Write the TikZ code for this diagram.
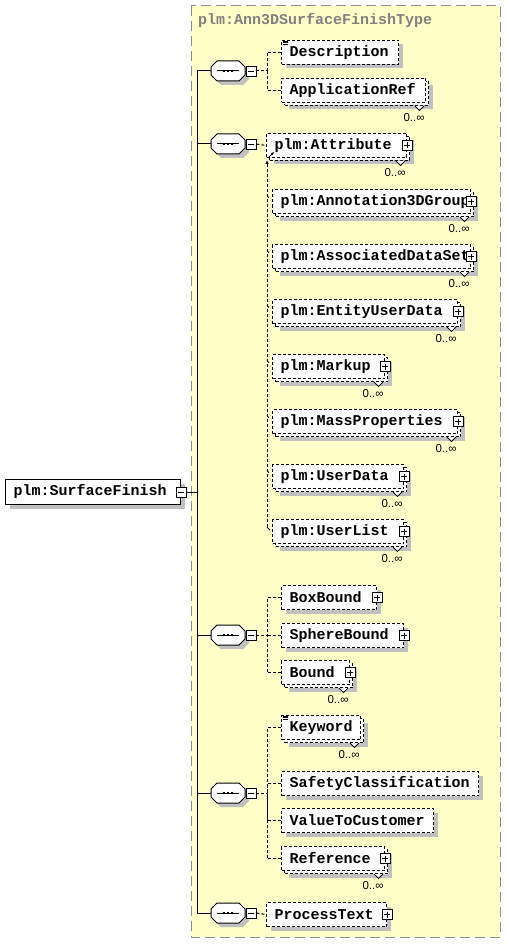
\documentclass[tikz,border=0pt]{standalone}
\usepackage{fontspec}
\newfontfamily\xmono{Liberation Mono}
\newfontfamily\xsans{Liberation Sans}
\usetikzlibrary{shadows,calc,arrows.meta}
\definecolor{boxyellow}{RGB}{255,255,200}
\definecolor{shadowgray}{RGB}{192,192,192}
\definecolor{titlegray}{RGB}{128,128,128}
\definecolor{bordergray}{RGB}{140,140,140}
\tikzset{
 elem/.style={draw, fill=white, line width=1pt, dash pattern=on 3pt off 2pt, inner sep=0, anchor=north west},
 elsolid/.style={draw, fill=white, line width=1pt, inner sep=0, anchor=north west},
 shad/.style={drop shadow={shadow xshift=4pt, shadow yshift=-4pt, fill=shadowgray, opacity=1}},
 lbl/.style={anchor=west, inner sep=0, font=\xmono\bfseries\fontsize{15}{15}\selectfont},
 mult/.style={anchor=north, inner sep=0, font=\xsans\fontsize{11.5}{11.5}\selectfont},
 dline/.style={line width=1pt, dash pattern=on 3pt off 2pt},
 sline/.style={line width=1pt},
 pmbase/.style={draw, fill=white, line width=0.8pt, minimum size=10pt, inner sep=0, solid},
 minusbox/.style={pmbase, path picture={\draw[line width=0.8pt] ($(path picture bounding box.west)+(2,0)$) -- ($(path picture bounding box.east)+(-2,0)$);}},
 plusbox/.style={pmbase, path picture={\draw[line width=0.8pt] ($(path picture bounding box.west)+(2,0)$) -- ($(path picture bounding box.east)+(-2,0)$) ($(path picture bounding box.north)+(0,2)$) -- ($(path picture bounding box.south)+(0,-2)$);}},
}
\newcommand\xsingle[6]{%
 \pgfmathsetmacro\xw{#4-#2}\pgfmathsetmacro\xh{#5-#3}%
 \node[elem, shad, minimum width=\xw pt, minimum height=\xh pt] (#1) at (#2,#3) {};%
 \node[lbl] (#1-t) at ($(#1.west)+(8.5,0)$) {#6};}
\newcommand\xmulti[6]{%
 \pgfmathsetmacro\xw{#4-#2}\pgfmathsetmacro\xh{#5-#3}%
 \node[elem, shad, minimum width=\xw pt, minimum height=\xh pt] (#1-b) at (#2+3,#3+3) {};%
 \draw[line width=0.8pt, fill=white] ($(#1-b.south east)+(-14,0)$) -- ++(4.5,4.5) -- ++(4.5,-4.5);%
 \node[mult] (#1-n) at ($(#1-b.south east)+(-15,7)$) {0..∞};%
 \node[elem, minimum width=\xw pt, minimum height=\xh pt] (#1) at (#2,#3) {};%
 \node[lbl] (#1-t) at ($(#1.west)+(8.5,0)$) {#6};}
\newcommand\xplus[1]{\node[plusbox] (#1-p) at (#1.east) {};}
\newcommand\xdoc[1]{\foreach \k in {1,2.5,4}{\draw[line width=0.7pt] ($(#1.north west)+(2,\k)$) -- ++(5,0);}}
\newcommand\xseq[2]{%
 \node[minimum width=34pt, minimum height=20pt, inner sep=0] (#1) at (228,#2) {};%
 \fill[shadowgray] (217+4,#2-10+4) -- (239+4,#2-10+4) -- (245+4,#2-4+4) -- (245+4,#2+4+4) -- (239+4,#2+10+4) -- (217+4,#2+10+4) -- (211+4,#2+4+4) -- (211+4,#2-4+4) -- cycle;%
 \draw[sline, fill=white] (217,#2-10) -- (239,#2-10) -- (245,#2-4) -- (245,#2+4) -- (239,#2+10) -- (217,#2+10) -- (211,#2+4) -- (211,#2-4) -- cycle;%
 \draw[sline] (217,#2) -- (239,#2);%
 \foreach \d in {224,228,232}{\fill (\d-1.2,#2-1.4) rectangle (\d+1.2,#2+1.4);}%
 \node[minusbox] (#1-m) at (251,#2) {};}
\begin{document}
\begin{tikzpicture}[x=1pt,y=-1pt]
\useasboundingbox (0,0) rectangle (506,944);
\fill[white] (0,0) rectangle (506,944);
\draw[bordergray, fill=boxyellow, dash pattern=on 10pt off 5pt, line width=1pt] (191,6) rectangle (500,937);
\node[lbl, text=titlegray] (title) at (198,21) {plm:Ann3DSurfaceFinishType};
% root
\node[elsolid, shad, minimum width=175pt, minimum height=25pt] (root) at (5,479) {};
\node[lbl] (root-t) at ($(root.west)+(8.5,0)$) {plm:SurfaceFinish};
\node[minusbox] (root-m) at (root.east) {};
% trunk
\coordinate (tr-top) at (197,71);
\coordinate (tr-bot) at (197,913);
\draw[sline] (root-m.east) -- (root-m.east -| tr-top);
\draw[sline] (tr-top) -- (tr-bot);
% compositors
\xseq{g1}{71}
\xseq{g2}{144}
\xseq{g3}{635}
\xseq{g4}{793}
\xseq{g5}{913}
\foreach \g in {g1,g2,g3,g4,g5}{\draw[sline] (\g.west) -- (\g.west -| tr-top);}
% group 1
\xsingle{desc}{281}{40}{398}{64}{Description}
\xdoc{desc}
\xmulti{appref}{281}{78}{425}{102}{ApplicationRef}
\coordinate (g1-j) at (267,71);
\draw[dline] (g1-m.east) -- (g1-j);
\draw[dline] (desc.west) -| (g1-j);
\draw[dline] (appref.west) -| (g1-j);
% group 2
\xmulti{ulist}{272}{519}{403}{543}{plm:UserList}\xplus{ulist}
\xmulti{udata}{272}{464}{403}{488}{plm:UserData}\xplus{udata}
\xmulti{mass}{272}{409}{457}{433}{plm:MassProperties}\xplus{mass}
\xmulti{markup}{272}{354}{384}{378}{plm:Markup}\xplus{markup}
\xmulti{entity}{272}{299}{457}{323}{plm:EntityUserData}\xplus{entity}
\xmulti{assoc}{272}{244}{470}{268}{plm:AssociatedDataSet}\xplus{assoc}
\xmulti{anno}{272}{189}{470}{213}{plm:Annotation3DGroup}\xplus{anno}
\xmulti{attr}{266}{133}{406}{157}{plm:Attribute}\xplus{attr}
\draw[dline] (g2-m.east) -- (attr.west);
\coordinate (s-top) at (267,160);
\coordinate (s-bot) at (267,527);
\draw[dline, -{Latex[length=4pt,width=3.5pt]}] (s-bot) -- (s-top);
\draw[line width=0.8pt] (s-bot) -- ++(3,3);
\foreach \m in {anno,assoc,entity,markup,mass,udata}{\draw[line width=0.8pt] ($(\m.north west)+(-5,6)$) -- ++(2,3);}
\draw[line width=0.8pt, -{Latex[length=3pt,width=3pt]}] (268,158) -- (274,152);
% group 3
\xsingle{boxb}{281}{585}{376}{609}{BoxBound}\xplus{boxb}
\xsingle{sphb}{281}{623}{403}{647}{SphereBound}\xplus{sphb}
\xmulti{bound}{281}{660}{349}{684}{Bound}\xplus{bound}
\coordinate (g3-j) at (267,635);
\draw[dline] (g3-m.east) -- (g3-j);
\draw[dline] (boxb.west) -| (g3-j);
\draw[dline] (sphb.west) -- (sphb.west -| g3-j);
\draw[dline] (bound.west) -| (g3-j);
% group 4
\xmulti{kw}{281}{715}{360}{739}{Keyword}
\xdoc{kw}
\xsingle{safety}{281}{771}{478}{795}{SafetyClassification}
\xsingle{value}{281}{808}{433}{832}{ValueToCustomer}
\xmulti{ref}{281}{846}{384}{870}{Reference}\xplus{ref}
\coordinate (g4-j) at (267,793);
\draw[dline] (g4-m.east) -- (g4-j);
\draw[dline] (kw.west) -| (g4-j);
\draw[dline] (safety.west) -| (g4-j);
\draw[dline] (value.west) -| (g4-j);
\draw[dline] (ref.west) -| (g4-j);
% group 5
\xsingle{proc}{266}{902}{386}{926}{ProcessText}\xplus{proc}
\draw[dline] (g5-m.east) -- (proc.west);
\end{tikzpicture}
\end{document}
